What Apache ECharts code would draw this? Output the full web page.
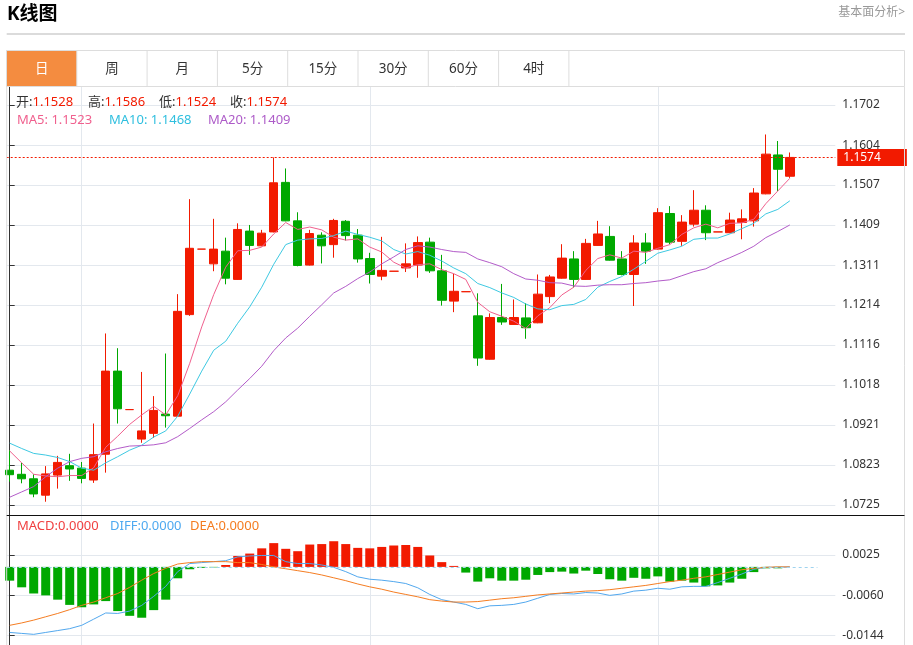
<!DOCTYPE html>
<html><head><meta charset="utf-8">
<script src="https://cdn.jsdelivr.net/npm/echarts@6/dist/echarts.min.js"></script>
<style>html,body{margin:0;padding:0;background:#fff;}#c{width:913px;height:645px;}</style>
</head><body><div id="c"></div>
<script>
// ---- data ----
const OPEN  = [1.0810,1.0800,1.0789,1.0749,1.0798,1.0821,1.0815,1.0786,1.0849,1.1052,1.0958,1.0886,1.0900,1.0947,1.0942,1.1190,1.1350,1.1314,1.1345,1.1276,1.1394,1.1358,1.1392,1.1513,1.1419,1.1311,1.1384,1.1361,1.1418,1.1384,1.1327,1.1284,1.1296,1.1304,1.1311,1.1367,1.1297,1.1223,1.1246,1.1187,1.1081,1.1183,1.1166,1.1182,1.1170,1.1234,1.1279,1.1326,1.1276,1.1359,1.1381,1.1326,1.1288,1.1365,1.1350,1.1437,1.1369,1.1411,1.1445,1.1392,1.1390,1.1415,1.1419,1.1485,1.1580,1.1528];
const CLOSE = [1.0799,1.0789,1.0752,1.0801,1.0829,1.0813,1.0790,1.0848,1.1052,1.0960,1.0958,1.0906,1.0956,1.0943,1.1198,1.1352,1.1350,1.1350,1.1279,1.1398,1.1359,1.1389,1.1512,1.1419,1.1310,1.1388,1.1358,1.1420,1.1383,1.1326,1.1288,1.1298,1.1296,1.1314,1.1366,1.1297,1.1225,1.1247,1.1246,1.1084,1.1183,1.1172,1.1183,1.1158,1.1240,1.1282,1.1328,1.1276,1.1364,1.1387,1.1323,1.1288,1.1365,1.1345,1.1439,1.1367,1.1416,1.1445,1.1390,1.1392,1.1421,1.1424,1.1487,1.1582,1.1545,1.1574];
const LOW   = [1.0782,1.0778,1.0744,1.0733,1.0765,1.0784,1.0778,1.0779,1.0804,1.0924,1.0958,1.0877,1.0889,1.0914,1.0941,1.1187,1.1350,1.1296,1.1264,1.1275,1.1336,1.1357,1.1391,1.1418,1.1308,1.1310,1.1315,1.1329,1.1371,1.1317,1.1266,1.1274,1.1296,1.1294,1.1280,1.1292,1.1212,1.1196,1.1246,1.1065,1.1080,1.1165,1.1165,1.1131,1.1169,1.1218,1.1278,1.1256,1.1275,1.1358,1.1322,1.1286,1.1211,1.1314,1.1349,1.1362,1.1358,1.1405,1.1372,1.1392,1.1389,1.1374,1.1405,1.1484,1.1492,1.1524];
const HIGH  = [1.0859,1.0828,1.0800,1.0820,1.0845,1.0850,1.0830,1.0924,1.1144,1.1108,1.0958,1.1050,1.0991,1.1095,1.1240,1.1472,1.1350,1.1424,1.1378,1.1413,1.1409,1.1397,1.1574,1.1547,1.1440,1.1397,1.1391,1.1424,1.1421,1.1399,1.1341,1.1380,1.1296,1.1364,1.1381,1.1378,1.1336,1.1290,1.1246,1.1242,1.1193,1.1265,1.1227,1.1218,1.1288,1.1287,1.1362,1.1345,1.1375,1.1419,1.1406,1.1345,1.1384,1.1389,1.1450,1.1455,1.1433,1.1494,1.1457,1.1392,1.1439,1.1447,1.1499,1.1630,1.1614,1.1586];
const MA5   = [1.0857,1.0828,1.0800,1.0796,1.0794,1.0797,1.0797,1.0816,1.0866,1.0893,1.0922,1.0945,1.0966,1.0945,1.0992,1.1071,1.1160,1.1239,1.1306,1.1346,1.1347,1.1355,1.1387,1.1415,1.1398,1.1404,1.1397,1.1379,1.1372,1.1375,1.1355,1.1343,1.1318,1.1304,1.1312,1.1314,1.1300,1.1290,1.1276,1.1220,1.1197,1.1186,1.1174,1.1156,1.1187,1.1207,1.1238,1.1257,1.1298,1.1327,1.1336,1.1328,1.1345,1.1342,1.1352,1.1361,1.1386,1.1402,1.1411,1.1402,1.1413,1.1414,1.1423,1.1461,1.1492,1.1523];
const MA10  = [1.0876,1.0863,1.0851,1.0847,1.0841,1.0831,1.0815,1.0810,1.0828,1.0843,1.0859,1.0871,1.0891,1.0906,1.0942,1.0996,1.1052,1.1103,1.1125,1.1169,1.1209,1.1257,1.1313,1.1361,1.1372,1.1375,1.1376,1.1383,1.1394,1.1386,1.1379,1.1370,1.1349,1.1338,1.1344,1.1335,1.1321,1.1304,1.1290,1.1266,1.1256,1.1243,1.1232,1.1216,1.1204,1.1202,1.1212,1.1215,1.1227,1.1257,1.1271,1.1283,1.1301,1.1320,1.1340,1.1348,1.1357,1.1374,1.1377,1.1377,1.1387,1.1400,1.1413,1.1436,1.1447,1.1468];
const MA20  = [1.0744,1.0757,1.0770,1.0794,1.0815,1.0831,1.0839,1.0843,1.0855,1.0863,1.0869,1.0870,1.0872,1.0877,1.0892,1.0912,1.0933,1.0953,1.0977,1.1006,1.1034,1.1064,1.1102,1.1133,1.1157,1.1186,1.1214,1.1243,1.1259,1.1278,1.1294,1.1314,1.1331,1.1349,1.1358,1.1355,1.1349,1.1344,1.1342,1.1326,1.1317,1.1307,1.1290,1.1277,1.1274,1.1268,1.1267,1.1260,1.1259,1.1262,1.1263,1.1263,1.1266,1.1268,1.1272,1.1275,1.1285,1.1295,1.1302,1.1317,1.1329,1.1342,1.1357,1.1378,1.1393,1.1409];
const MACD  = [-0.0029,-0.0043,-0.0056,-0.0060,-0.0069,-0.0080,-0.0085,-0.0079,-0.0072,-0.0093,-0.0103,-0.0107,-0.0091,-0.0069,-0.0024,-0.0005,-0.0002,-0.0001,0.0004,0.0023,0.0028,0.0039,0.0050,0.0038,0.0033,0.0047,0.0048,0.0054,0.0048,0.0040,0.0039,0.0042,0.0045,0.0046,0.0042,0.0024,0.0010,0.0002,-0.0012,-0.0031,-0.0024,-0.0029,-0.0029,-0.0027,-0.0017,-0.0011,-0.0010,-0.0014,-0.0008,-0.0015,-0.0026,-0.0029,-0.0023,-0.0025,-0.0020,-0.0031,-0.0029,-0.0033,-0.0041,-0.0039,-0.0033,-0.0025,-0.0011,-0.0003,-0.0003,0.0000];
const DIFF  = [-0.0138,-0.0140,-0.0142,-0.0138,-0.0134,-0.0130,-0.0123,-0.0110,-0.0097,-0.0098,-0.0093,-0.0081,-0.0062,-0.0041,-0.0010,0.0007,0.0009,0.0011,0.0013,0.0021,0.0023,0.0024,0.0024,0.0011,0.0007,0.0007,0.0004,-0.0001,-0.0010,-0.0021,-0.0026,-0.0028,-0.0031,-0.0035,-0.0044,-0.0058,-0.0069,-0.0074,-0.0079,-0.0088,-0.0082,-0.0081,-0.0079,-0.0074,-0.0066,-0.0058,-0.0056,-0.0057,-0.0054,-0.0055,-0.0060,-0.0057,-0.0051,-0.0049,-0.0045,-0.0047,-0.0042,-0.0041,-0.0041,-0.0033,-0.0024,-0.0015,-0.0005,-0.0001,-0.0001,0.0000];
const DEA   = [-0.0123,-0.0118,-0.0112,-0.0105,-0.0098,-0.0090,-0.0081,-0.0074,-0.0065,-0.0056,-0.0043,-0.0028,-0.0014,-0.0003,0.0006,0.0009,0.0011,0.0011,0.0011,0.0009,0.0009,0.0005,0.0000,-0.0004,-0.0008,-0.0012,-0.0017,-0.0023,-0.0029,-0.0036,-0.0042,-0.0047,-0.0053,-0.0058,-0.0063,-0.0069,-0.0072,-0.0074,-0.0074,-0.0073,-0.0070,-0.0067,-0.0065,-0.0062,-0.0059,-0.0057,-0.0055,-0.0053,-0.0051,-0.0050,-0.0048,-0.0045,-0.0042,-0.0039,-0.0035,-0.0031,-0.0028,-0.0024,-0.0021,-0.0016,-0.0011,-0.0006,-0.0003,-0.0001,0.0000,0.0000];
const PRICE_TICKS = [1.0725,1.0823,1.0921,1.1018,1.1116,1.1214,1.1311,1.1409,1.1507,1.1604,1.1702];
const MACD_TICKS  = [-0.0144,-0.0060,0.0025];
const X_SPLITS    = [6,30,54];
const TABS = ['日','周','月','5分','15分','30分','60分','4时'];

// ---- styling / layout ----
const FONT = "'Noto Sans','Noto Sans CJK SC',sans-serif";
const UP = '#f21a00', DOWN = '#00a800';
const C_MA5 = '#f0608e', C_MA10 = '#3ec9e2', C_MA20 = '#b35cc9';
const C_DIFF = '#52a8ee', C_DEA = '#f57d22';
const GRID_COLOR = '#e3e8ee';
const L = 6.7, AX = 835.3, RB = 904.5;
const P_MIN = 1.069935, P_MAX = 1.174597;
const M_MIN = -0.016441, M_MAX = 0.010813;
const last = CLOSE.length - 1;

const chart = echarts.init(document.getElementById('c'));
const idx = (arr) => arr.map((v, i) => [i, v]);
const fmt4 = (v) => Number(v).toFixed(4);

const xBase = (g) => ({
  type: 'value', gridIndex: g, min: -0.25, max: 68.79,
  axisLine: {show: false}, axisLabel: {show: false},
  axisTick: {show: false, customValues: X_SPLITS},
  splitLine: {show: true, customValues: X_SPLITS, lineStyle: {color: GRID_COLOR, width: 1}}
});
const yBase = (g, mn, mx, ticks) => ({
  type: 'value', gridIndex: g, position: 'right', min: mn, max: mx, scale: true,
  axisLine: {show: true, lineStyle: {color: '#333', width: 1}},
  axisTick: {show: true, customValues: ticks, length: 5, lineStyle: {color: '#333'}},
  axisLabel: {customValues: ticks, formatter: fmt4, color: '#333', fontSize: 12, margin: 7, fontFamily: FONT, hideOverlap: false},
  splitLine: {show: true, customValues: ticks, lineStyle: {color: GRID_COLOR, width: 1}}
});

const legendTxt = (x, y, parts) => ({
  type: 'text', x: x, y: y, z: 100,
  style: {
    text: parts.map((p, k) => '{s' + k + '|' + p[0] + '}').join(''),
    rich: Object.fromEntries(parts.map((p, k) => ['s' + k, {fill: p[1], fontSize: 13, fontFamily: FONT}])),
    verticalAlign: 'middle', align: 'left'
  }
});

const graphics = [
  {type: 'text', x: 7, y: 15, z: 100, style: {text: 'K线图', fill: '#000', fontSize: 19, fontWeight: 'bold', fontFamily: FONT, verticalAlign: 'middle'}},
  {type: 'text', x: 905, y: 13, z: 100, style: {text: '基本面分析>', fill: '#999', fontSize: 12, fontFamily: FONT, align: 'right', verticalAlign: 'middle'}},
  {type: 'line', z: 100, shape: {x1: L, y1: 34, x2: 905, y2: 34}, style: {stroke: '#cfcfcf', lineWidth: 1.3}},
  {type: 'rect', z: 99, shape: {x: 6.5, y: 50.5, width: 70.3, height: 36}, style: {fill: '#f48c40'}},
  {type: 'rect', z: 100, shape: {x: 6.5, y: 50.5, width: RB - 6.5, height: 36}, style: {fill: null, stroke: '#dddddd', lineWidth: 1}},
  {type: 'line', z: 100, shape: {x1: L, y1: 86.5, x2: L, y2: 645}, style: {stroke: '#dddddd', lineWidth: 1}},
  {type: 'line', z: 100, shape: {x1: RB, y1: 86.5, x2: RB, y2: 645}, style: {stroke: '#dddddd', lineWidth: 1}},
  {type: 'line', z: 100, shape: {x1: L, y1: 515.5, x2: RB, y2: 515.5}, style: {stroke: '#111', lineWidth: 1.2}},
  legendTxt(16, 102.5, [['开:', '#333'], [fmt4(OPEN[last]), UP]]),
  legendTxt(88, 102.5, [['高:', '#333'], [fmt4(HIGH[last]), UP]]),
  legendTxt(159, 102.5, [['低:', '#333'], [fmt4(LOW[last]), UP]]),
  legendTxt(230, 102.5, [['收:', '#333'], [fmt4(CLOSE[last]), UP]]),
  legendTxt(17, 120.5, [['MA5: ' + fmt4(MA5[last]), C_MA5]]),
  legendTxt(109, 120.5, [['MA10: ' + fmt4(MA10[last]), '#2fbfdf']]),
  legendTxt(208, 120.5, [['MA20: ' + fmt4(MA20[last]), '#ad5bc8']]),
  legendTxt(17, 526.5, [['MACD:' + fmt4(Math.abs(MACD[last])), '#f04040']]),
  legendTxt(110, 526.5, [['DIFF:' + fmt4(Math.abs(DIFF[last])), '#4ea9f0']]),
  legendTxt(190, 526.5, [['DEA:' + fmt4(Math.abs(DEA[last])), '#f47c20']])
];
TABS.forEach((t, k) => {
  if (k > 0) graphics.push({type: 'line', z: 100, shape: {x1: 6.5 + 70.3 * k, y1: 50.5, x2: 6.5 + 70.3 * k, y2: 86.5}, style: {stroke: '#dddddd', lineWidth: 1}});
  graphics.push({type: 'text', x: 6.5 + 70.3 * (k + 0.5), y: 69, z: 101,
    style: {text: t, fill: k === 0 ? '#fff' : '#333', fontSize: 13.5, fontFamily: FONT, align: 'center', verticalAlign: 'middle'}});
});
graphics.push({type: 'line', z: 100, shape: {x1: 6.5 + 70.3 * 8, y1: 50.5, x2: 6.5 + 70.3 * 8, y2: 86.5}, style: {stroke: '#dddddd', lineWidth: 1}});

const maSeries = (name, arr, color) => ({
  name: name, type: 'line', xAxisIndex: 0, yAxisIndex: 0, data: idx(arr),
  showSymbol: false, symbol: 'none', smooth: false, silent: true,
  lineStyle: {color: color, width: 1}, itemStyle: {color: color}
});

const option = {
  animation: false,
  backgroundColor: '#fff',
  textStyle: {fontFamily: FONT},
  grid: [
    {left: L, right: 913 - AX, top: 87, height: 428.5, outerBoundsMode: 'none', containLabel: false},
    {left: L, right: 913 - AX, top: 515.5, height: 129.5, outerBoundsMode: 'none', containLabel: false}
  ],
  xAxis: [xBase(0), xBase(1)],
  yAxis: [yBase(0, P_MIN, P_MAX, PRICE_TICKS), yBase(1, M_MIN, M_MAX, MACD_TICKS)],
  graphic: graphics,
  series: [
    {
      name: 'K', type: 'candlestick', xAxisIndex: 0, yAxisIndex: 0,
      data: OPEN.map((o, i) => [i, o, CLOSE[i], LOW[i], HIGH[i]]),
      encode: {x: 0, y: [1, 2, 3, 4]},
      barWidth: 9, silent: true,
      itemStyle: {color: UP, color0: DOWN, borderColor: UP, borderColor0: DOWN, borderColorDoji: UP, borderWidth: 1},
      markLine: {
        silent: true, symbol: ['none', 'none'], animation: false, precision: 4,
        data: [{yAxis: CLOSE[last]}],
        lineStyle: {color: UP, type: [2, 2], width: 1},
        label: {show: true, position: 'end', formatter: () => fmt4(CLOSE[last]), color: '#fff', backgroundColor: UP,
          fontSize: 12, fontFamily: FONT, padding: [3, 26, 2, 6], distance: 2}
      }
    },
    maSeries('MA5', MA5, C_MA5),
    maSeries('MA10', MA10, C_MA10),
    maSeries('MA20', MA20, C_MA20),
    {
      name: 'MACD', type: 'bar', xAxisIndex: 1, yAxisIndex: 1, data: idx(MACD), barWidth: 9, silent: true,
      itemStyle: {color: (p) => p.value[1] >= 0 ? UP : DOWN},
      markLine: {
        silent: true, symbol: ['none', 'none'], animation: false, label: {show: false}, precision: 4,
        lineStyle: {color: '#9fd3ef', type: [3, 3], width: 1},
        data: [[{coord: [-0.25, 0]}, {coord: [67.3, 0]}]]
      }
    },
    {name: 'DIFF', type: 'line', xAxisIndex: 1, yAxisIndex: 1, data: idx(DIFF), showSymbol: false, symbol: 'none', silent: true, lineStyle: {color: C_DIFF, width: 1}},
    {name: 'DEA', type: 'line', xAxisIndex: 1, yAxisIndex: 1, data: idx(DEA), showSymbol: false, symbol: 'none', silent: true, lineStyle: {color: C_DEA, width: 1}}
  ]
};
chart.setOption(option);
</script></body></html>
